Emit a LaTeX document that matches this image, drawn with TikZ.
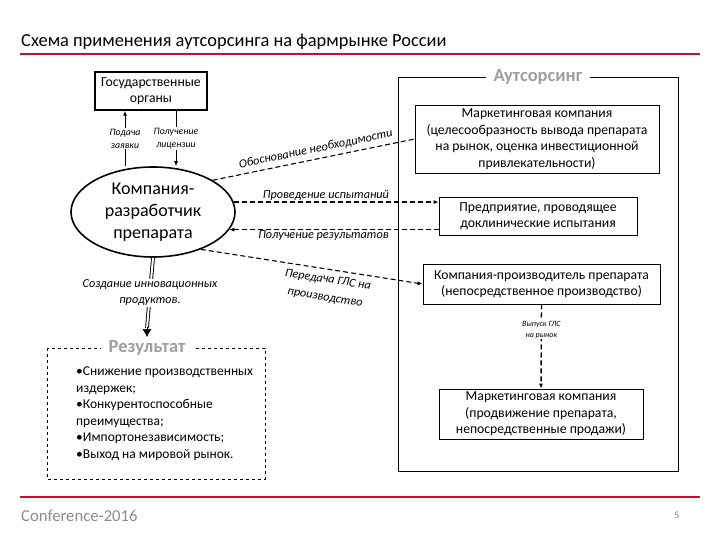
\documentclass[tikz,border=0pt]{standalone}
\usepackage{fontspec}
\setmainfont{Carlito}
\usetikzlibrary{shapes.geometric,arrows.meta,positioning}
\begin{document}
\begin{tikzpicture}[x=1pt,y=-1pt,
  box/.style = {draw, line width=0.8pt, align=center, inner sep=1pt, font=\fontsize{13.7}{16.5}\selectfont},
  lbl/.style = {align=center, inner sep=1pt, font=\fontsize{12.2}{16}\selectfont\itshape},
  tinylbl/.style = {align=center, inner sep=1pt, font=\fontsize{9.8}{13}\selectfont\itshape},
  frametitle/.style = {fill=white, text=gray!75, inner xsep=8pt, font=\fontsize{18.5}{20}\selectfont\bfseries},
  dsh/.style = {dash pattern=on 5pt off 3pt, line width=1.1pt},
  >={Latex[length=5pt,width=4pt]}]
\definecolor{slidered}{RGB}{200,16,46}
\useasboundingbox (0,0) rectangle (720,540);
\node[anchor=west, inner sep=0pt, font=\fontsize{18.4}{20}\selectfont] (title) at (21,42) {Схема применения аутсорсинга на фармрынке России};
\draw[slidered, line width=2.2pt] (20,54) -- (700,54);
\draw[slidered, line width=2.2pt] (20,497) -- (700,497);
\draw[green!40!cyan!12, line width=1.5pt] (20,501) -- (700,501);
\node[anchor=west, inner sep=0pt, text=gray!90, font=\fontsize{16.7}{18}\selectfont] (conf) at (21,516) {Conference-2016};
\node[text=gray, inner sep=0pt, font=\fontsize{10}{12}\selectfont] (page) at (677,515) {5};
\draw[line width=0.8pt] (398,77) rectangle (678,471);
\node[frametitle] (outtitle) at (538,77) {Аутсорсинг};
\draw[dashed, line width=0.6pt] (47,348) rectangle (265,479);
\node[frametitle] (restitle) at (147,348) {Результат};
\node[anchor=north west, align=left, inner sep=0pt, font=\fontsize{13.5}{16.5}\selectfont] (restext) at (76,367) {•Снижение производственных\\издержек;\\•Конкурентоспособные\\преимущества;\\•Импортонезависимость;\\•Выход на мировой рынок.};
\node[draw, line width=1.5pt, minimum width=112, minimum height=38, align=center, inner sep=1pt, font=\fontsize{13.7}{16}\selectfont] (gov) at (151,91) {Государственные\\органы};
\node[ellipse, draw, line width=1.6pt, minimum width=164, minimum height=90, inner sep=0pt, align=center, font=\fontsize{18}{22}\selectfont] (comp) at (153,212) {Компания-\\разработчик\\препарата};
\node[box, minimum width=244, minimum height=68] (mark) at (537,139) {Маркетинговая компания\\(целесообразность вывода препарата\\на рынок, оценка инвестиционной\\привлекательности)};
\node[box, minimum width=198, minimum height=38] (trial) at (538,216) {Предприятие, проводящее\\доклинические испытания};
\node[box, minimum width=237, minimum height=40] (prod) at (541.5,284) {Компания-производитель препарата\\(непосредственное производство)};
\node[box, minimum width=204, minimum height=50] (sales) at (541,414) {Маркетинговая компания\\(продвижение препарата,\\непосредственные продажи)};
\coordinate (gl) at ([xshift=-26pt]gov.south);
\coordinate (gr) at ([xshift=25pt]gov.south);
\draw[line width=0.9pt, ->] (gl |- comp.north) -- node[tinylbl, fill=white] {Подача\\заявки} (gl);
\draw[line width=0.9pt, ->] (gr) -- node[tinylbl, fill=white] {Получение\\лицензии} (gr |- comp.north);
\draw[dsh] (comp.28) -- node[lbl, sloped, above=3pt, pos=0.52] {Обоснование необходимости} (mark.west);
\draw[dsh, line width=1.5pt, ->] (comp.7) -- node[lbl, above, pos=0.45] {Проведение испытаний} (comp.7 -| trial.west);
\draw[dash pattern=on 5pt off 3pt, line width=0.6pt, ->] (comp.-13 -| trial.west) -- node[lbl, below, pos=0.55] {Получение результатов} (comp.-13);
\draw[dsh, ->] (comp.-38) -- node[lbl, sloped, below=4pt, pos=0.58, font=\fontsize{12.2}{18}\selectfont\itshape] {Передача ГЛС на\\производство} (prod.west);
\draw[dsh, line width=1.4pt, ->] (prod.south) -- node[pos=0.3, fill=white, align=center, inner sep=1pt, font=\fontsize{8}{11}\selectfont\itshape] {Выпуск ГЛС\\на рынок} (sales.north);
\coordinate (tip) at ([yshift=9pt]restitle.north);
\draw[double, double distance=2pt, line width=0.9pt] (comp.south) -- node[lbl, fill=white] {Создание инновационных\\продуктов.} (tip);
\draw[-{Latex[length=8pt,width=9pt]}, line width=0.5pt] ([yshift=1pt]tip) -- (restitle.north);
\end{tikzpicture}
\end{document}
